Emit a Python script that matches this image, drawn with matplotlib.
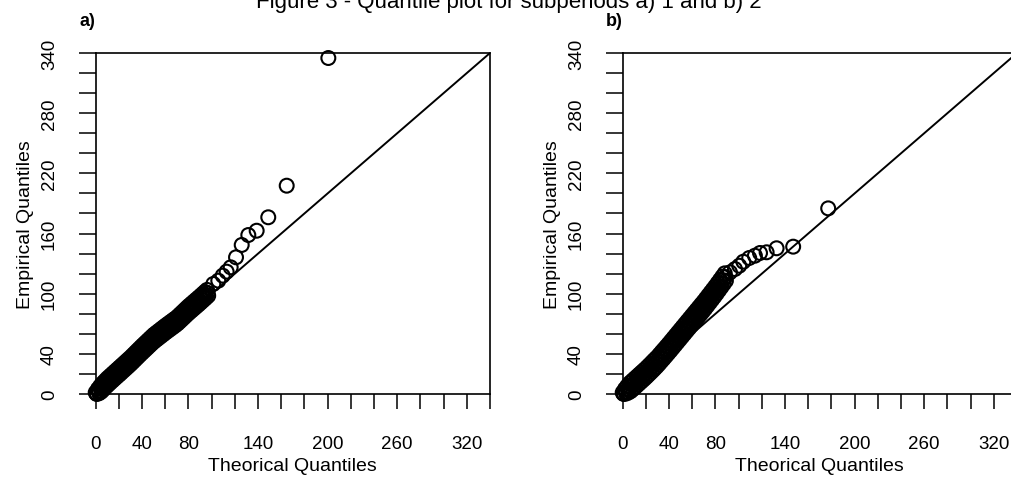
import matplotlib
matplotlib.use("Agg")
import matplotlib.pyplot as plt

plt.rcParams['font.family'] = ['Liberation Sans', 'DejaVu Sans']

# subperiod 1 (panel a): theoretical vs empirical quantiles
# dense body (upper/lower edge of the cloud), then the sparse upper tail
theo_a = [0, 1, 2, 3, 4, 5, 6, 7, 8, 9, 10, 11, 12, 13, 14, 15, 16, 17, 18, 19,
          20, 21, 22, 23, 24, 25, 26, 27, 28, 29, 30, 31, 32, 33, 34, 35, 36, 37,
          38, 39, 40, 41, 42, 43, 44, 45, 46, 47, 48, 49, 50, 51, 52, 53, 54, 55,
          56, 57, 58, 59, 60, 61, 62, 63, 64, 65, 66, 67, 68, 69, 70, 71, 72, 73,
          74, 75, 76, 77, 78, 79, 80, 81, 82, 83, 84, 85, 86, 87, 88, 89, 90, 91,
          92, 93, 94, 95, 96, 97,
          101.4, 105.7, 109.5, 112.9, 116.4, 121, 125.9, 131.6, 138.8, 148.8,
          164.7, 200.6]
emp_a = [1.5, 0, 5, 0.8, 8, 2.5, 10.7, 4.9, 13.1, 7.3, 15.5, 9.5, 17.6, 11.7,
         19.7, 13.8, 21.8, 15.9, 23.9, 18, 26, 20, 28.1, 22.2, 30.2, 24.3, 32.3,
         26.4, 34.4, 28.5, 36.5, 30.7, 38.8, 33, 41.1, 35.3, 43.4, 37.6, 45.7,
         39.9, 48, 42.1, 50.2, 44.3, 52.4, 46.5, 54.6, 48.7, 56.8, 50.9, 59, 52.9,
         60.8, 54.7, 62.6, 56.5, 64.4, 58.3, 66.2, 60.1, 68, 61.9, 69.7, 63.6,
         71.4, 65.3, 73.1, 67, 74.8, 68.7, 76.5, 70.6, 78.7, 72.8, 80.9, 75, 83.1,
         77.2, 85.3, 79.4, 87.5, 81.5, 89.5, 83.5, 91.5, 85.5, 93.5, 87.5, 95.5,
         89.5, 97.5, 91.6, 99.6, 93.7, 101.7, 95.8, 103.8, 98,
         109.7, 113, 118, 122, 126.3, 136.3, 148.6, 158.5, 162.8, 176.2, 207.7, 335]
# middle of the dense body
theo_a_mid = [0.5, 2.5, 4.5, 6.5, 8.5, 10.5, 12.5, 14.5, 16.5, 18.5, 20.5, 22.5,
              24.5, 26.5, 28.5, 30.5, 32.5, 34.5, 36.5, 38.5, 40.5, 42.5, 44.5,
              46.5, 48.5, 50.5, 52.5, 54.5, 56.5, 58.5, 60.5, 62.5, 64.5, 66.5,
              68.5, 70.5, 72.5, 74.5, 76.5, 78.5, 80.5, 82.5, 84.5, 86.5, 88.5,
              90.5, 92.5, 94.5, 96.5]
emp_a_mid = [0.6, 3, 5.4, 7.8, 10.2, 12.5, 14.6, 16.7, 18.8, 20.9, 23, 25.1, 27.2,
             29.3, 31.4, 33.6, 35.9, 38.2, 40.5, 42.8, 45, 47.2, 49.4, 51.6, 53.8,
             56, 57.8, 59.6, 61.4, 63.2, 64.9, 66.6, 68.3, 70, 71.7, 73.6, 75.8,
             78, 80.2, 82.4, 84.5, 86.5, 88.5, 90.5, 92.5, 94.5, 96.6, 98.7, 100.8]

# subperiod 2 (panel b)
theo_b = [0, 1, 2, 3, 4, 5, 6, 7, 8, 9, 10, 11, 12, 13, 14, 15, 16, 17, 18, 19,
          20, 21, 22, 23, 24, 25, 26, 27, 28, 29, 30, 31, 32, 33, 34, 35, 36, 37,
          38, 39, 40, 41, 42, 43, 44, 45, 46, 47, 48, 49, 50, 51, 52, 53, 54, 55,
          56, 57, 58, 59, 60, 61, 62, 63, 64, 65, 66, 67, 68, 69, 70, 71, 72, 73,
          74, 75, 76, 77, 78, 79, 80, 81, 82, 83, 84, 85, 86, 87, 88, 89,
          92.5, 96.8, 100.5, 104, 109.1, 114, 118.4, 124.1, 132.7, 147, 177.2]
emp_b = [1.5, 0, 5, 0.5, 8, 1.5, 10.8, 2.9, 12.9, 5, 15, 7, 17.1, 9.2, 19.2, 11.3,
         21.3, 13.4, 23.4, 15.5, 25.5, 17.7, 27.8, 20, 30.1, 22.3, 32.5, 24.6,
         34.8, 27, 37.1, 29.5, 39.8, 32.2, 42.5, 34.8, 45.1, 37.5, 47.8, 40.2,
         50.5, 42.9, 53.3, 45.7, 56.1, 48.5, 58.9, 51.3, 61.7, 54.1, 64.5, 56.9,
         67.3, 59.7, 70.1, 62.5, 72.9, 65.3, 75.7, 68.1, 78.5, 70.9, 81.3, 73.7,
         84.1, 76.5, 86.9, 79.3, 89.7, 82.1, 92.5, 85, 95.5, 88, 98.5, 91, 101.5,
         94, 104.5, 97, 107.5, 100.1, 110.7, 103.3, 113.9, 106.5, 117.1, 109.7,
         120.3, 112.9,
         121.3, 124.6, 127.9, 131.9, 135.6, 137.9, 140.6, 141.3, 145.3, 146.9, 185.1]
theo_b_mid = [0.5, 2.5, 4.5, 6.5, 8.5, 10.5, 12.5, 14.5, 16.5, 18.5, 20.5, 22.5,
              24.5, 26.5, 28.5, 30.5, 32.5, 34.5, 36.5, 38.5, 40.5, 42.5, 44.5,
              46.5, 48.5, 50.5, 52.5, 54.5, 56.5, 58.5, 60.5, 62.5, 64.5, 66.5,
              68.5, 70.5, 72.5, 74.5, 76.5, 78.5, 80.5, 82.5, 84.5, 86.5, 88.5]
emp_b_mid = [0.5, 2.6, 4.7, 6.8, 8.9, 11, 13.1, 15.2, 17.3, 19.4, 21.6, 23.9, 26.2,
             28.5, 30.9, 33.3, 36, 38.6, 41.3, 44, 46.7, 49.5, 52.3, 55.1, 57.9,
             60.7, 63.5, 66.3, 69.1, 71.9, 74.7, 77.5, 80.3, 83.1, 85.9, 88.75,
             91.75, 94.75, 97.75, 100.75, 103.8, 107, 110.2, 113.4, 116.6]

ticks = list(range(0, 341, 20))
xlab_shown = [0, 40, 80, 140, 200, 260, 320]
ylab_shown = [0, 40, 100, 160, 220, 280, 340]

W, H = 1012, 481
fig = plt.figure(figsize=(W / 100, H / 100), dpi=100)

# axes boxes in pixels: left, top, right, bottom (panel b runs past the right edge)
boxes = [(95.7, 54, 490, 395), (622.7, 54, 1017, 395)]
panels = [(theo_a + theo_a_mid, emp_a + emp_a_mid, 'a)'),
          (theo_b + theo_b_mid, emp_b + emp_b_mid, 'b)')]

for (l, t, r, b), (tx, ey, tag) in zip(boxes, panels):
    ax = fig.add_axes([l / W, 1 - b / H, (r - l) / W, (b - t) / H])
    ax.scatter(tx, ey, s=100, facecolors='none', edgecolors='black',
               linewidths=1.5, clip_on=False, zorder=3)
    ax.axline((0, 0), slope=1, color='black', lw=1.4, zorder=2)
    ax.set_xlim(0, 340)
    ax.set_ylim(0, 340)
    ax.set_xticks(ticks)
    ax.set_yticks(ticks)
    ax.set_xticklabels([str(v) if v in xlab_shown else '' for v in ticks], fontsize=13.5)
    ax.set_yticklabels([str(v) if v in ylab_shown else '' for v in ticks], fontsize=13.5,
                       rotation=90, va='center')
    ax.tick_params(axis='x', length=10.8, width=1.1, pad=19, color='black')
    ax.tick_params(axis='y', length=12.2, width=1.1, pad=15, color='black')
    for sp in ax.spines.values():
        sp.set_linewidth(1.2)
    ax.set_xlabel('Theorical Quantiles', fontsize=14, labelpad=3)
    ax.set_ylabel('Empirical Quantiles', fontsize=14, labelpad=5)
    fig.text((l - 8) / W, 1 - 21 / H, tag, fontsize=13, fontweight='bold',
             ha='center', va='center')

fig.text(509 / W, 1 - 8 / H, 'Figure 3 - Quantile plot for subperiods a) 1 and b) 2',
         fontsize=16, ha='center', va='baseline')

fig.savefig('out.png', dpi=100)
